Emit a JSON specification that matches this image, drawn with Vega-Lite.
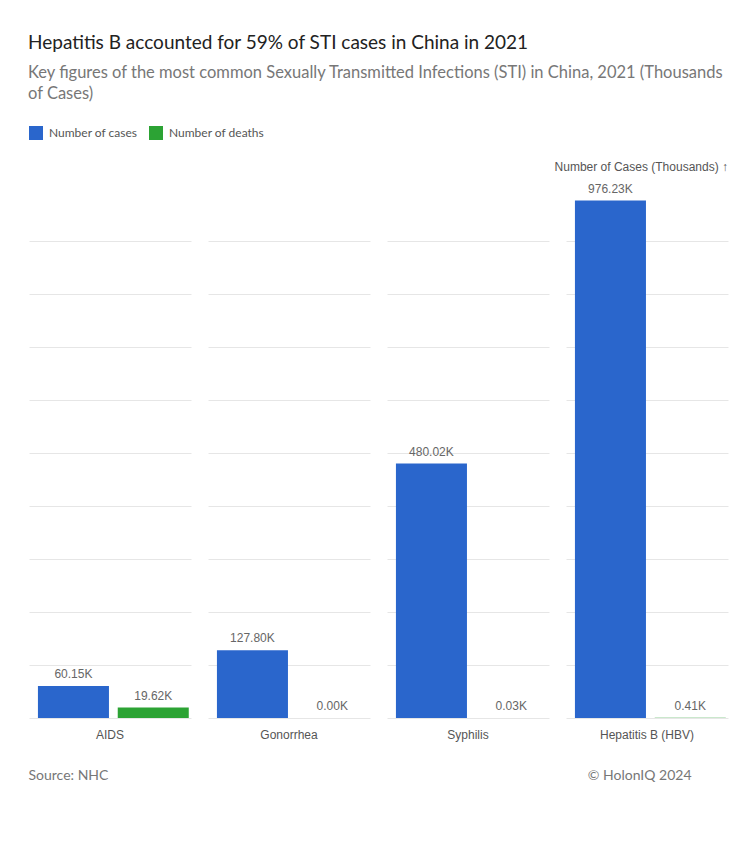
{
  "$schema": "https://vega.github.io/schema/vega-lite/v6.json",
  "padding": {"left": 28, "top": 33, "right": 28, "bottom": 60},
  "background": "white",
  "title": {
    "text": "Hepatitis B accounted for 59% of STI cases in China in 2021",
    "subtitle": ["Key figures of the most common Sexually Transmitted Infections (STI) in China, 2021 (Thousands", "of Cases)"],
    "anchor": "start",
    "font": "Lato", "fontSize": 19, "fontWeight": "normal", "color": "#222222",
    "subtitleFont": "Lato", "subtitleFontSize": 16.5, "subtitleColor": "#777777", "subtitlePadding": 12, "subtitleLineHeight": 21,
    "offset": 24
  },
  "data": {"values": [
    {"disease": "AIDS", "series": "Number of cases", "value": 60.15},
    {"disease": "AIDS", "series": "Number of deaths", "value": 19.62},
    {"disease": "Gonorrhea", "series": "Number of cases", "value": 127.80},
    {"disease": "Gonorrhea", "series": "Number of deaths", "value": 0.001},
    {"disease": "Syphilis", "series": "Number of cases", "value": 480.02},
    {"disease": "Syphilis", "series": "Number of deaths", "value": 0.03},
    {"disease": "Hepatitis B (HBV)", "series": "Number of cases", "value": 976.23},
    {"disease": "Hepatitis B (HBV)", "series": "Number of deaths", "value": 0.41}
  ]},
  "transform": [{"calculate": "format(datum.value, '.2f') + 'K'", "as": "label"}],
  "facet": {
    "column": {
      "field": "disease", "type": "nominal",
      "sort": ["AIDS", "Gonorrhea", "Syphilis", "Hepatitis B (HBV)"],
      "title": "Number of Cases (Thousands) ↑",
      "header": {
        "labelOrient": "bottom", "labelFont": "Liberation Sans", "labelFontSize": 12, "labelColor": "#555555", "labelPadding": 12,
        "titleOrient": "top", "titleAnchor": "end", "titleFont": "Liberation Sans", "titleFontSize": 12, "titleColor": "#555555", "titleFontWeight": "normal", "titlePadding": -2
      }
    }
  },
  "spacing": 17,
  "spec": {
    "width": 162, "height": 530,
    "layer": [
      {
        "mark": {"type": "bar"},
        "encoding": {
          "x": {"field": "series", "type": "nominal", "axis": null,
                "scale": {"paddingInner": 0.11, "paddingOuter": 0.07, "align": 0.8}},
          "y": {"field": "value", "type": "quantitative", "scale": {"domain": [0, 1000]},
                "axis": {"labels": false, "ticks": false, "domain": false, "grid": true,
                         "values": [0, 100, 200, 300, 400, 500, 600, 700, 800, 900],
                         "gridColor": "#e6e6e6",
                         "title": "Source: NHC", "titleAngle": 0, "titleAlign": "left", "titleBaseline": "middle",
                         "titleX": -1, "titleY": 587, "titleFont": "Lato", "titleFontSize": 14, "titleColor": "#777777", "titleFontWeight": "normal"}},
          "color": {"field": "series", "type": "nominal",
                    "scale": {"domain": ["Number of cases", "Number of deaths"], "range": ["#2a66cc", "#2ca334"]},
                    "legend": {"title": null, "orient": "top", "direction": "horizontal", "symbolType": "square", "symbolSize": 196,
                               "symbolStrokeWidth": 0, "labelFont": "Lato", "labelFontSize": 12, "labelColor": "#555555",
                               "labelOffset": 6, "columnPadding": 11, "offset": 21}}
        }
      },
      {
        "mark": {"type": "text", "baseline": "bottom", "dy": -5, "font": "Liberation Sans", "fontSize": 12, "color": "#666666"},
        "encoding": {
          "x": {"field": "series", "type": "nominal", "axis": null},
          "y": {"field": "value", "type": "quantitative",
                "axis": {"orient": "right", "labels": false, "ticks": false, "domain": false, "grid": false,
                         "title": "© HolonIQ 2024", "titleAngle": 0, "titleAlign": "right", "titleBaseline": "middle",
                         "titleX": -37, "titleY": 587, "titleFont": "Lato", "titleFontSize": 14, "titleColor": "#777777", "titleFontWeight": "normal"}},
          "text": {"field": "label"}
        }
      }
    ],
    "resolve": {"axis": {"y": "independent"}}
  },
  "config": {"view": {"stroke": null}}
}
